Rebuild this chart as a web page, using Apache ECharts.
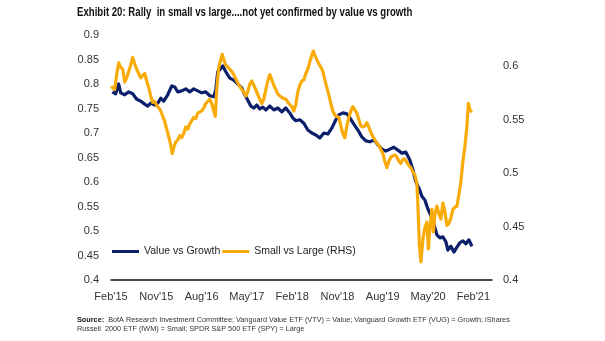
<!DOCTYPE html>
<html>
<head>
<meta charset="utf-8">
<script src="https://cdn.jsdelivr.net/npm/echarts@6/dist/echarts.min.js"></script>
<style>
  html, body { margin: 0; padding: 0; background: #ffffff; }
  #chart { width: 605px; height: 341px; }
</style>
</head>
<body>
<div id="chart"></div>
<script>
// Months elapsed since Feb 2015 for each observation, and the ratio values.
const valueGrowthMonths = [
  0.28, 0.93, 1.53, 1.93, 2.72, 3.52, 4.31, 5.11, 5.90, 6.70, 7.30, 7.89, 8.69, 9.30, 9.88,
  10.48, 11.27, 12.07, 12.66, 13.26, 14.06, 14.85, 15.65, 16.44, 17.24, 18.03, 18.83, 19.62,
  20.42, 20.82, 21.21, 21.61, 22.21, 22.80, 23.60, 24.39, 25.19, 25.98, 26.58, 27.18, 27.77,
  28.37, 28.97, 29.56, 30.16, 30.76, 31.55, 32.35, 33.14, 33.94, 34.73, 35.53, 36.12, 36.72,
  37.52, 38.31, 39.11, 39.90, 40.70, 41.49, 42.29, 43.08, 43.88, 44.67, 45.27, 46.06, 46.86,
  47.46, 48.25, 49.05, 49.84, 50.64, 51.43, 52.23, 53.02, 53.82, 54.61, 55.41, 56.20, 57.00,
  57.79, 58.59, 59.38, 59.98, 60.58, 61.17, 61.77, 62.37, 62.96, 63.56, 64.16, 64.75, 65.35,
  65.94, 66.54, 66.94, 67.53, 68.13, 68.73, 69.32, 69.92, 70.52, 71.11, 71.71
];
const valueGrowth = [
  0.784, 0.780, 0.800, 0.782, 0.778, 0.784, 0.780, 0.769, 0.765, 0.759, 0.755, 0.761, 0.757, 0.761, 0.771,
  0.765, 0.778, 0.796, 0.794, 0.784, 0.786, 0.790, 0.784, 0.790, 0.786, 0.782, 0.784, 0.776,
  0.774, 0.788, 0.825, 0.829, 0.837, 0.825, 0.812, 0.808, 0.800, 0.792, 0.778, 0.767, 0.755,
  0.751, 0.757, 0.749, 0.753, 0.747, 0.755, 0.747, 0.751, 0.743, 0.751, 0.741, 0.731, 0.725,
  0.727, 0.720, 0.706, 0.700, 0.696, 0.690, 0.700, 0.698, 0.710, 0.727, 0.737, 0.741, 0.739,
  0.731, 0.718, 0.706, 0.692, 0.684, 0.682, 0.686, 0.676, 0.667, 0.663, 0.667, 0.671, 0.665,
  0.659, 0.661, 0.645, 0.625, 0.600, 0.588, 0.571, 0.563, 0.545, 0.531, 0.514, 0.492, 0.486,
  0.488, 0.478, 0.461, 0.469, 0.457, 0.467, 0.476, 0.480, 0.474, 0.482, 0.469
];

const smallLargeMonths = [
  0.00, 0.34, 0.74, 1.13, 1.53, 1.93, 2.33, 2.72, 3.12, 3.52, 3.92, 4.31, 4.71, 5.11, 5.51,
  5.90, 6.30, 6.70, 7.10, 7.49, 7.89, 8.29, 8.69, 9.09, 9.48, 9.88, 10.28, 10.68, 11.07, 11.47,
  11.87, 12.17, 12.47, 12.86, 13.26, 13.66, 14.06, 14.45, 14.85, 15.25, 15.65, 16.04, 16.44,
  16.84, 17.24, 17.63, 18.03, 18.43, 18.83, 19.22, 19.62, 20.02, 20.42, 20.72, 21.01, 21.41,
  21.81, 22.11, 22.41, 22.80, 23.20, 23.60, 24.00, 24.39, 24.79, 25.19, 25.59, 25.98, 26.38,
  26.78, 27.18, 27.57, 27.97, 28.37, 28.77, 29.17, 29.56, 29.96, 30.36, 30.76, 31.15, 31.55,
  31.95, 32.35, 32.74, 33.14, 33.54, 34.14, 34.73, 35.33, 35.92, 36.32, 36.72, 37.12, 37.52,
  37.91, 38.31, 38.71, 39.11, 39.50, 39.90, 40.20, 40.50, 40.89, 41.29, 41.69, 42.09, 42.49,
  42.88, 43.28, 43.68, 44.08, 44.47, 44.87, 45.27, 45.67, 46.06, 46.46, 46.86, 47.26, 47.65,
  48.05, 48.45, 48.85, 49.24, 49.64, 50.04, 50.44, 50.83, 51.23, 51.63, 52.03, 52.42, 52.82,
  53.22, 53.62, 54.02, 54.41, 54.81, 55.21, 55.61, 56.00, 56.40, 56.80, 57.20, 57.59, 57.99,
  58.39, 58.79, 59.18, 59.58, 59.98, 60.38, 60.78, 60.97, 61.27, 61.57, 61.97, 62.37, 62.76,
  63.06, 63.36, 63.76, 64.06, 64.35, 64.75, 65.15, 65.55, 65.94, 66.34, 66.74, 67.14, 67.53,
  67.93, 68.33, 68.73, 69.13, 69.52, 69.92, 70.32, 70.72, 71.01, 71.31, 71.71
];
const smallLarge = [
  0.581, 0.580, 0.578, 0.592, 0.603, 0.599, 0.597, 0.585, 0.589, 0.595, 0.601, 0.608, 0.602, 0.597, 0.593,
  0.589, 0.591, 0.593, 0.586, 0.580, 0.572, 0.566, 0.567, 0.563, 0.561, 0.558, 0.553, 0.548, 0.541, 0.534,
  0.526, 0.518, 0.524, 0.529, 0.531, 0.535, 0.533, 0.537, 0.543, 0.541, 0.546, 0.547, 0.552,
  0.551, 0.556, 0.557, 0.558, 0.561, 0.565, 0.566, 0.569, 0.565, 0.558, 0.553, 0.578, 0.599,
  0.606, 0.611, 0.606, 0.601, 0.599, 0.597, 0.595, 0.592, 0.588, 0.584, 0.581, 0.578, 0.576,
  0.572, 0.576, 0.583, 0.586, 0.582, 0.578, 0.573, 0.569, 0.565, 0.569, 0.578, 0.586, 0.592,
  0.587, 0.582, 0.578, 0.574, 0.572, 0.570, 0.569, 0.565, 0.562, 0.558, 0.564, 0.576, 0.582,
  0.586, 0.587, 0.593, 0.597, 0.604, 0.610, 0.614, 0.610, 0.606, 0.602, 0.599, 0.595, 0.587,
  0.580, 0.573, 0.565, 0.558, 0.554, 0.553, 0.552, 0.544, 0.537, 0.533, 0.544, 0.552, 0.558,
  0.562, 0.559, 0.556, 0.550, 0.544, 0.543, 0.544, 0.547, 0.543, 0.538, 0.534, 0.531, 0.528,
  0.526, 0.522, 0.518, 0.511, 0.505, 0.511, 0.515, 0.516, 0.517, 0.515, 0.511, 0.509, 0.513,
  0.513, 0.510, 0.507, 0.505, 0.501, 0.498, 0.490, 0.471, 0.433, 0.417, 0.438, 0.449, 0.454,
  0.429, 0.449, 0.466, 0.445, 0.461, 0.469, 0.462, 0.457, 0.472, 0.464, 0.451, 0.453, 0.458,
  0.466, 0.468, 0.469, 0.480, 0.492, 0.511, 0.525, 0.544, 0.565, 0.559, 0.557
];

// One label every nine months, starting Feb 2015
const monthTickLabels = ["Feb'15", "Nov'15", "Aug'16", "May'17", "Feb'18", "Nov'18", "Aug'19", "May'20", "Feb'21"];

const seriesNames = ['Value vs Growth', 'Small vs Large (RHS)'];
const navy = '#0c1f6b';
const amber = '#f9ab0a';
const textFont = '"Liberation Sans", Arial, sans-serif';

function pairs(xs, ys) {
  return xs.map((x, i) => [x, ys[i]]);
}

function onStep(v, step) {
  const r = v / step;
  return Math.abs(r - Math.round(r)) < 1e-6;
}

const chart = echarts.init(document.getElementById('chart'), null, { renderer: 'canvas' });

chart.setOption({
  animation: false,
  backgroundColor: '#ffffff',
  textStyle: { fontFamily: textFont },
  grid: { left: 111, right: 113, top: 35, bottom: 61, containLabel: false },
  legend: {
    left: 112,
    top: 246,
    padding: 0,
    icon: 'rect',
    itemWidth: 27,
    itemHeight: 3,
    itemGap: 2,
    data: seriesNames,
    textStyle: { fontFamily: textFont, fontSize: 10.5, color: '#222222' }
  },
  xAxis: {
    type: 'value',
    min: 0,
    max: 75.7,
    interval: 9,
    axisLine: { show: true, lineStyle: { color: '#111111', width: 1.5 } },
    axisTick: { show: false },
    splitLine: { show: false },
    axisLabel: {
      margin: 11,
      fontSize: 11,
      color: '#333333',
      fontFamily: textFont,
      formatter: v => (onStep(v, 9) ? monthTickLabels[Math.round(v / 9)] || '' : '')
    }
  },
  yAxis: [
    {
      type: 'value',
      min: 0.4,
      max: 0.9,
      interval: 0.05,
      axisLine: { show: false },
      axisTick: { show: false },
      splitLine: { show: false },
      axisLabel: {
        margin: 12,
        fontSize: 11,
        color: '#333333',
        fontFamily: textFont,
        formatter: v => String(+v.toFixed(2))
      }
    },
    {
      type: 'value',
      min: 0.4,
      max: 0.629,
      interval: 0.05,
      position: 'right',
      axisLine: { show: false },
      axisTick: { show: false },
      splitLine: { show: false },
      axisLabel: {
        margin: 11,
        fontSize: 11,
        color: '#333333',
        fontFamily: textFont,
        formatter: v => (onStep(v, 0.05) ? String(+v.toFixed(2)) : '')
      }
    }
  ],
  series: [
    {
      name: seriesNames[0],
      type: 'line',
      yAxisIndex: 0,
      data: pairs(valueGrowthMonths, valueGrowth),
      showSymbol: false,
      symbol: 'none',
      lineStyle: { color: navy, width: 3.2, join: 'round' },
      itemStyle: { color: navy }
    },
    {
      name: seriesNames[1],
      type: 'line',
      yAxisIndex: 1,
      data: pairs(smallLargeMonths, smallLarge),
      showSymbol: false,
      symbol: 'none',
      lineStyle: { color: amber, width: 3.2, join: 'round' },
      itemStyle: { color: amber }
    }
  ],
  graphic: [
    {
      type: 'text',
      x: 77,
      y: 6,
      scaleX: 0.77,
      style: {
        x: 0,
        y: 0,
        text: 'Exhibit 20: Rally  in small vs large....not yet confirmed by value vs growth',
        fontFamily: textFont,
        fontWeight: 'bold',
        fontSize: 12.5,
        fill: '#111111'
      }
    },
    {
      type: 'text',
      x: 77,
      y: 315,
      scaleX: 0.91,
      style: {
        x: 0,
        y: 0,
        text: '{b|Source:}  BofA Research Investment Committee; Vanguard Value ETF (VTV) = Value; Vanguard Growth ETF (VUG) = Growth; iShares\nRussell  2000 ETF (IWM) = Small; SPDR S&P 500 ETF (SPY) = Large',
        fontFamily: textFont,
        fontSize: 8,
        lineHeight: 9,
        fill: '#333333',
        rich: {
          b: { fontFamily: textFont, fontSize: 8, fontWeight: 'bold', fill: '#111111', lineHeight: 9 }
        }
      }
    }
  ]
});
</script>
</body>
</html>
